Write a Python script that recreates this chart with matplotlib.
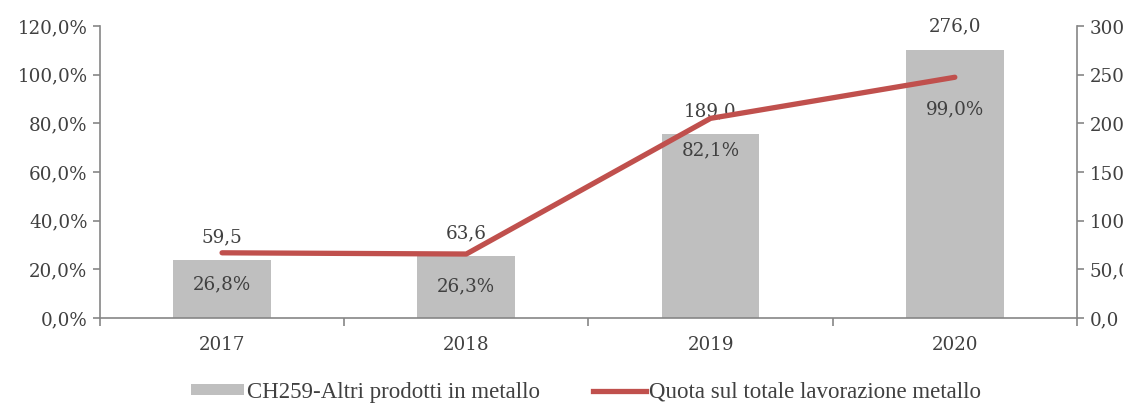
import matplotlib
matplotlib.use('Agg')
import matplotlib.pyplot as plt
from matplotlib.patches import Patch
from matplotlib.lines import Line2D

# ---------------- data ----------------
years = ['2017', '2018', '2019', '2020']
bar_values = [59.5, 63.6, 189.0, 276.0]        # CH259 (right axis)
share_values = [0.268, 0.263, 0.821, 0.990]    # quota (left axis)

left_ticks = [0.0, 0.2, 0.4, 0.6, 0.8, 1.0, 1.2]
right_ticks = [0, 50, 100, 150, 200, 250, 300]

BAR_COLOR = '#BFBFBF'
LINE_COLOR = '#C0504D'
AXIS_COLOR = '#868686'
TEXT_COLOR = '#404040'
TICK_FONT = 'DejaVu Serif'
LEGEND_FONT = 'Liberation Serif'
FS = 13.2


def it_num(v, dec=1):
    return f'{v:.{dec}f}'.replace('.', ',')


fig = plt.figure(figsize=(11.23, 4.03), dpi=100)
ax = fig.add_axes([0.089, 0.211, 0.870, 0.724])
ax2 = ax.twinx()

x = list(range(len(years)))

# bars on the right axis, line on the left axis
ax2.bar(x, bar_values, width=0.4, color=BAR_COLOR, zorder=1)
ax.plot(x, share_values, color=LINE_COLOR, linewidth=3.8,
        solid_capstyle='round', zorder=5)
ax.set_zorder(ax2.get_zorder() + 1)
ax.patch.set_visible(False)

ax.set_xlim(-0.5, len(years) - 0.5)
ax.set_ylim(0, 1.2)
ax2.set_ylim(0, 300)

ax.set_yticks(left_ticks)
ax.set_yticklabels([it_num(v * 100) + '%' for v in left_ticks])
ax2.set_yticks(right_ticks)
ax2.set_yticklabels([it_num(v) for v in right_ticks])

# x ticks at category boundaries, labels at centres
ax.set_xticks([i - 0.5 for i in range(len(years) + 1)])
ax.set_xticklabels([])
ax.set_xticks(x, minor=True)
ax.set_xticklabels(years, minor=True)
ax.tick_params(axis='x', which='minor', length=0, pad=13)
ax.tick_params(axis='x', which='major', length=6, color=AXIS_COLOR, width=1.2)

for a in (ax, ax2):
    a.spines['top'].set_visible(False)
    for side in ('left', 'right', 'bottom'):
        a.spines[side].set_color(AXIS_COLOR)
        a.spines[side].set_linewidth(1.2)
    a.tick_params(axis='y', length=5, color=AXIS_COLOR, width=1.2, pad=4)
    for lbl in a.get_yticklabels() + a.get_xticklabels(minor=True):
        lbl.set_fontfamily(TICK_FONT)
        lbl.set_fontsize(FS)
        lbl.set_color(TEXT_COLOR)
ax2.spines['left'].set_visible(False)
ax2.spines['bottom'].set_visible(False)
ax.spines['right'].set_visible(False)

# data labels
for xi, v in zip(x, bar_values):
    ax2.annotate(it_num(v), (xi, v), xytext=(0, 10), textcoords='offset points',
                 ha='center', va='bottom', fontsize=FS, family=TICK_FONT,
                 color=TEXT_COLOR, zorder=10)
for xi, v in zip(x, share_values):
    ax.annotate(it_num(v * 100) + '%', (xi, v), xytext=(0, -23),
                textcoords='offset points', ha='center', va='center',
                fontsize=FS, family=TICK_FONT, color=TEXT_COLOR, zorder=10)

# legend
handles = [Patch(facecolor=BAR_COLOR, edgecolor='none'),
           Line2D([0], [0], color=LINE_COLOR, linewidth=3.8)]
labels = ['CH259-Altri prodotti in metallo',
          'Quota sul totale lavorazione metallo']
leg = fig.legend(handles, labels, loc='center', bbox_to_anchor=(0.522, 0.027),
                 ncol=2, frameon=False, prop={'family': LEGEND_FONT, 'size': 16.5},
                 handlelength=2.3, handleheight=0.4, handletextpad=0.15,
                 columnspacing=2.3, borderpad=0)
for t in leg.get_texts():
    t.set_color(TEXT_COLOR)

fig.savefig('out.png', dpi=100)
